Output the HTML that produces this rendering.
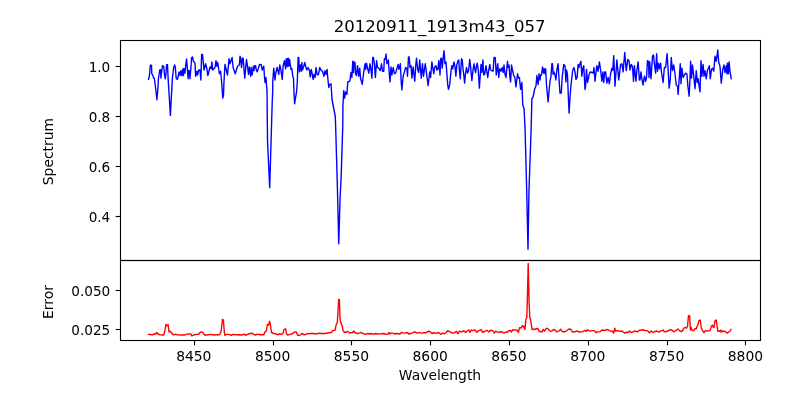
<!DOCTYPE html>
<html><head><meta charset="utf-8"><title>20120911_1913m43_057</title>
<style>
html,body{margin:0;padding:0;background:#fff;}
body{width:800px;height:400px;overflow:hidden;}
svg{display:block;will-change:transform;}
text{font-family:"DejaVu Sans","Liberation Sans",sans-serif;fill:#000;}
</style></head><body>
<svg width="800" height="400" viewBox="0 0 800 400">
<rect x="0" y="0" width="800" height="400" fill="#ffffff"/>
<path d="M148.44 79.38 L149.38 76.25 L150.31 65.31 L151.56 65.31 L151.75 73.75 L152.38 74.38 L152.81 75.00 L153.12 76.88 L154.38 78.75 L156.00 91.25 L156.88 99.75 L157.88 88.75 L158.44 78.75 L159.69 70.00 L160.62 69.69 L160.94 78.12 L161.38 73.75 L162.50 65.62 L163.75 66.56 L164.38 73.75 L165.31 78.75 L165.94 73.75 L166.56 64.69 L167.50 64.69 L168.12 78.75 L169.38 98.75 L170.38 115.38 L171.25 98.75 L172.50 76.88 L173.75 67.50 L174.69 65.00 L175.31 67.50 L176.25 78.75 L177.50 79.38 L179.06 71.88 L180.00 75.62 L180.94 70.62 L181.88 75.62 L182.81 69.06 L183.44 75.62 L183.88 68.44 L185.00 73.12 L185.62 66.25 L186.56 59.06 L187.50 69.38 L188.12 78.75 L188.75 70.62 L189.50 70.62 L190.00 78.75 L190.94 67.50 L191.56 57.81 L192.50 56.88 L193.44 61.25 L195.00 63.12 L195.62 76.25 L196.88 71.25 L197.50 75.00 L198.75 70.00 L200.00 70.00 L200.88 80.00 L201.62 54.38 L202.50 54.38 L204.00 70.00 L205.62 63.75 L206.88 68.75 L207.88 75.62 L210.00 66.88 L211.25 68.75 L211.88 61.88 L212.75 70.00 L215.00 67.50 L216.00 60.62 L216.88 66.25 L217.75 62.50 L219.38 73.75 L220.62 71.25 L221.88 85.00 L222.75 98.12 L223.50 95.00 L224.00 81.25 L225.00 64.38 L227.50 75.00 L229.00 58.75 L230.00 63.75 L232.12 57.50 L233.12 67.50 L235.25 73.75 L237.50 66.25 L239.38 65.00 L240.00 56.25 L240.62 57.50 L241.50 67.50 L242.50 58.12 L243.12 58.12 L244.75 78.12 L246.50 59.38 L247.50 66.25 L248.50 74.38 L249.38 66.88 L250.62 76.25 L251.25 67.50 L252.12 75.00 L253.38 66.25 L254.00 70.62 L254.75 65.62 L255.62 65.62 L256.25 70.00 L257.25 71.88 L258.75 66.88 L259.75 64.38 L261.25 64.75 L262.25 70.00 L263.75 66.25 L264.62 78.75 L265.00 82.50 L266.00 77.50 L266.50 85.00 L267.00 90.00 L267.50 140.00 L269.70 187.70 L271.10 140.00 L272.20 103.00 L272.75 90.00 L272.75 81.25 L273.75 68.12 L275.00 80.00 L275.62 73.75 L277.12 67.50 L278.75 74.38 L279.75 65.00 L280.62 68.12 L282.25 79.38 L283.12 66.25 L284.38 60.62 L285.62 68.75 L286.12 59.00 L286.62 66.00 L287.25 58.50 L287.75 66.50 L288.38 58.25 L289.00 66.00 L289.62 59.50 L290.25 64.00 L291.00 69.38 L291.88 68.75 L292.75 76.25 L293.50 78.12 L294.00 92.50 L294.62 103.75 L295.88 95.62 L296.50 92.50 L297.25 82.50 L297.50 76.25 L298.12 57.50 L298.75 57.50 L299.38 71.88 L300.38 65.00 L301.25 71.25 L301.88 62.50 L302.50 70.00 L303.75 66.25 L304.75 62.50 L305.62 66.25 L306.88 70.00 L308.12 67.50 L309.38 70.00 L310.25 76.88 L311.25 69.38 L312.25 74.38 L313.12 79.38 L314.00 74.38 L315.00 77.50 L316.00 67.50 L317.25 75.00 L318.50 74.38 L319.75 67.50 L321.25 70.62 L322.50 71.25 L324.00 76.25 L325.00 70.62 L326.00 74.38 L327.12 69.38 L327.50 75.00 L328.75 87.50 L329.75 84.40 L331.00 83.75 L332.10 100.00 L335.25 116.25 L335.60 125.00 L337.20 180.00 L337.70 200.00 L338.75 243.80 L340.00 200.00 L341.00 180.00 L341.90 154.00 L342.80 125.00 L342.90 106.25 L343.75 90.60 L344.60 98.10 L345.60 91.90 L346.90 94.40 L347.75 81.88 L349.75 81.25 L351.00 72.50 L351.88 77.50 L352.75 61.25 L353.50 72.50 L354.00 61.88 L355.00 62.50 L355.62 74.38 L356.50 75.62 L357.50 65.62 L358.75 76.25 L359.75 68.12 L360.62 78.75 L362.25 84.38 L363.50 73.75 L365.00 63.75 L365.62 69.38 L366.50 63.12 L367.50 68.12 L368.75 73.12 L370.00 63.75 L371.00 70.00 L371.88 78.12 L372.75 57.50 L373.50 57.50 L374.38 63.75 L375.38 77.50 L376.62 60.62 L377.50 67.50 L378.75 68.12 L380.25 70.62 L381.50 63.75 L382.50 71.25 L383.75 71.25 L384.38 58.75 L385.25 59.38 L386.00 54.00 L386.88 63.75 L388.38 60.00 L389.00 70.00 L390.00 81.88 L391.00 66.88 L391.88 75.00 L393.12 67.50 L394.38 73.75 L395.62 73.12 L396.88 68.75 L398.12 64.38 L399.00 69.38 L400.38 63.75 L401.25 82.50 L401.88 90.00 L403.12 76.25 L404.38 71.88 L405.62 67.50 L406.88 68.75 L407.50 76.25 L408.50 56.88 L409.12 56.88 L410.00 67.50 L411.00 65.62 L411.88 78.12 L413.12 66.88 L414.75 81.25 L415.62 67.50 L416.50 58.12 L417.75 70.00 L418.75 72.50 L419.75 60.00 L421.25 78.12 L422.50 63.75 L423.50 76.25 L425.25 63.75 L426.25 71.25 L428.12 85.62 L429.75 71.88 L430.62 77.50 L431.88 61.88 L433.12 70.00 L433.75 73.75 L434.75 66.88 L436.00 65.62 L436.88 70.00 L437.88 69.38 L438.75 60.62 L439.62 70.00 L440.00 75.00 L440.62 58.75 L441.50 58.12 L442.25 68.12 L443.12 58.75 L444.00 50.62 L445.00 63.75 L446.00 61.88 L446.88 73.75 L447.75 85.00 L448.50 89.38 L449.75 84.38 L451.00 71.25 L451.88 65.62 L452.75 68.75 L454.00 61.88 L455.00 66.88 L455.88 76.25 L456.88 64.38 L458.12 60.62 L458.75 60.00 L459.38 70.00 L460.25 78.75 L461.50 58.75 L462.25 60.00 L463.12 70.00 L463.75 74.38 L464.62 83.12 L465.62 72.50 L466.50 67.50 L467.50 73.12 L468.50 71.25 L469.75 59.38 L470.62 66.88 L471.88 80.62 L473.12 69.38 L474.00 63.75 L475.00 70.00 L475.62 72.50 L476.50 66.25 L477.25 63.12 L478.12 68.75 L479.38 88.12 L480.25 75.00 L481.00 64.38 L481.88 72.50 L482.88 60.00 L483.75 75.00 L484.75 73.75 L486.00 65.62 L486.88 71.88 L487.75 77.50 L488.75 70.00 L489.75 64.38 L490.62 70.00 L491.88 70.62 L493.12 71.25 L494.00 57.50 L495.25 57.50 L496.25 75.00 L497.75 63.75 L498.75 77.50 L499.75 68.75 L501.00 71.25 L502.12 67.50 L503.12 72.50 L504.00 65.00 L505.00 74.38 L506.00 77.50 L507.50 61.25 L508.12 67.50 L509.00 65.00 L510.00 78.12 L510.62 81.88 L511.50 65.00 L512.50 70.00 L513.75 75.62 L514.75 76.88 L516.00 86.88 L517.50 73.75 L518.50 78.12 L519.38 77.50 L520.62 89.38 L521.88 82.50 L522.75 105.00 L524.10 108.75 L525.10 130.00 L526.70 190.00 L528.00 249.30 L529.00 190.00 L531.10 130.00 L531.90 98.75 L533.10 96.90 L534.75 88.75 L536.00 86.00 L536.90 75.50 L538.10 84.50 L539.00 73.75 L540.00 80.00 L540.62 75.00 L541.50 75.00 L542.50 66.88 L543.50 73.12 L544.12 68.75 L545.00 73.75 L545.62 68.75 L546.50 85.00 L548.12 101.88 L549.38 87.50 L550.00 81.25 L551.00 76.25 L551.88 63.75 L552.50 63.75 L553.12 74.38 L554.00 71.88 L555.00 75.00 L555.88 80.00 L556.88 70.00 L558.12 63.75 L559.00 78.75 L560.00 93.12 L561.25 93.12 L562.25 76.25 L563.75 64.38 L565.00 65.62 L565.88 81.88 L566.62 70.00 L567.50 75.00 L568.38 97.50 L569.12 113.12 L570.00 97.50 L571.00 85.00 L571.88 77.50 L572.75 70.00 L574.00 67.50 L575.00 71.88 L576.00 79.38 L577.12 77.50 L578.12 64.38 L579.00 67.50 L579.75 64.38 L580.88 61.25 L581.88 76.25 L582.88 68.12 L583.75 65.62 L585.00 89.38 L585.62 86.25 L586.50 69.38 L587.50 82.50 L589.00 75.00 L590.25 71.88 L591.88 72.50 L593.12 73.12 L594.00 67.50 L595.00 81.25 L596.00 72.50 L596.88 65.62 L598.12 71.25 L599.38 61.88 L600.62 70.00 L601.88 81.25 L602.88 71.88 L603.75 82.50 L604.75 71.88 L605.62 71.88 L606.88 83.12 L608.12 77.50 L609.38 83.75 L610.62 73.75 L611.88 68.12 L612.75 70.62 L613.75 55.62 L615.00 86.25 L616.88 60.00 L617.75 69.38 L618.75 80.00 L620.62 64.38 L621.88 63.75 L623.12 71.88 L624.75 52.50 L626.25 70.62 L627.75 59.38 L629.00 60.62 L630.00 70.00 L631.25 64.38 L632.50 66.88 L633.50 81.25 L634.38 65.62 L635.25 74.38 L636.00 81.25 L636.88 70.00 L638.12 61.88 L639.38 80.00 L640.00 80.00 L641.00 71.88 L641.88 78.75 L643.12 85.00 L644.38 76.25 L645.62 81.25 L646.50 77.50 L647.50 60.62 L648.50 61.25 L649.00 77.50 L649.75 61.88 L651.00 78.75 L652.50 56.25 L653.50 55.00 L654.38 63.75 L655.62 73.12 L656.62 53.75 L657.50 71.25 L658.50 63.12 L659.38 68.75 L660.62 63.12 L661.50 72.50 L663.12 82.50 L664.38 67.50 L665.62 67.50 L667.12 53.75 L668.12 70.00 L669.12 88.12 L670.25 80.00 L671.25 57.50 L672.50 70.62 L673.75 65.00 L675.00 73.75 L676.25 85.00 L677.50 86.25 L678.12 94.38 L679.38 76.25 L680.25 63.75 L681.00 83.75 L681.88 68.12 L683.12 77.50 L684.38 75.00 L685.62 73.12 L686.88 73.75 L687.88 86.25 L689.12 96.25 L690.00 78.75 L690.62 61.25 L691.50 78.12 L692.50 65.00 L693.75 76.25 L695.00 88.75 L696.25 70.62 L697.25 82.50 L698.12 78.75 L698.75 83.75 L700.00 91.88 L701.00 60.62 L701.88 76.25 L703.12 64.38 L704.00 76.25 L705.00 70.62 L706.25 78.75 L707.50 70.00 L708.50 68.12 L709.38 65.62 L710.25 78.75 L711.50 69.38 L712.50 68.12 L713.75 71.25 L715.00 56.25 L716.25 61.25 L717.75 50.00 L718.75 62.50 L720.00 66.25 L721.25 83.12 L722.75 70.00 L724.00 65.00 L725.00 72.50 L726.25 65.62 L726.88 73.75 L727.50 63.12 L728.38 73.75 L729.12 61.88 L730.00 71.25 L731.25 78.75" fill="none" stroke="#0000ff" stroke-width="1.39" stroke-linejoin="round" stroke-linecap="square"/>
<path d="M148.50 334.38 L152.50 334.75 L154.38 334.00 L155.62 334.00 L156.62 332.50 L158.12 334.00 L160.00 334.75 L163.75 335.00 L164.75 331.25 L166.00 324.38 L166.88 325.62 L168.12 324.75 L169.00 331.88 L170.00 331.25 L171.25 332.50 L173.12 334.75 L175.00 334.38 L177.50 334.75 L182.50 335.00 L185.62 334.75 L187.50 333.75 L188.75 334.38 L190.00 333.75 L191.25 334.38 L191.88 336.00 L193.75 335.00 L196.25 334.38 L198.75 334.38 L200.00 332.50 L201.00 331.88 L202.50 332.25 L203.75 334.00 L205.00 335.25 L207.50 334.75 L211.25 334.38 L213.75 335.00 L216.25 334.75 L219.38 334.75 L221.00 331.88 L221.88 325.00 L222.50 319.38 L223.38 320.00 L224.38 332.50 L225.00 335.25 L226.25 334.38 L228.75 334.38 L231.25 335.25 L233.12 334.38 L236.25 334.75 L239.38 334.75 L240.00 335.00 L243.12 334.75 L244.38 334.00 L245.62 335.25 L247.50 334.38 L249.38 333.75 L251.88 333.12 L253.75 334.38 L255.62 335.00 L257.50 334.12 L260.00 334.75 L263.75 334.75 L265.00 331.88 L266.25 331.25 L267.50 324.38 L268.50 325.00 L269.62 321.25 L270.62 326.25 L271.50 332.50 L273.75 333.50 L276.25 334.00 L278.12 334.75 L279.38 333.75 L281.88 334.38 L283.12 333.12 L283.75 330.00 L284.75 329.38 L285.62 328.75 L286.50 333.75 L287.25 335.00 L290.00 334.38 L292.50 333.75 L294.00 332.12 L296.25 331.88 L297.50 335.00 L299.00 335.62 L300.62 334.75 L301.88 333.50 L303.12 334.00 L304.38 335.00 L306.25 334.00 L310.00 333.50 L313.75 333.50 L316.25 334.00 L319.38 333.12 L320.00 333.50 L325.00 333.50 L328.75 332.75 L331.25 332.50 L332.50 330.62 L335.00 330.25 L336.25 324.38 L337.25 323.12 L338.12 308.75 L338.75 299.38 L339.38 299.38 L340.00 318.75 L341.00 323.12 L342.25 326.25 L343.12 330.62 L344.38 332.25 L346.25 332.25 L347.50 331.25 L349.38 332.75 L352.50 332.75 L353.75 331.00 L355.00 332.75 L357.50 333.50 L359.38 333.12 L361.25 332.50 L363.12 333.50 L365.62 334.38 L368.12 333.50 L370.00 334.00 L371.25 333.50 L373.12 334.38 L375.62 333.50 L377.50 334.00 L381.25 333.75 L383.75 333.50 L386.25 334.38 L388.12 334.00 L389.00 332.50 L390.00 334.00 L391.88 332.75 L393.75 333.75 L396.25 333.50 L400.00 334.00 L401.50 332.25 L403.12 333.12 L405.00 333.12 L407.50 332.50 L408.75 334.00 L411.25 333.50 L413.12 332.50 L415.00 331.88 L416.88 333.12 L418.75 332.75 L420.00 332.50 L421.88 333.50 L423.75 332.50 L425.62 333.12 L426.88 331.88 L428.75 331.25 L430.62 331.88 L431.88 333.50 L433.75 332.75 L436.25 333.12 L438.75 332.50 L440.62 334.38 L442.50 333.12 L444.38 333.75 L446.25 332.50 L447.50 330.62 L450.00 331.88 L452.50 333.12 L455.00 332.50 L456.25 331.25 L458.12 333.75 L459.38 331.25 L461.88 331.88 L463.75 330.62 L465.62 332.50 L467.50 330.62 L468.75 330.00 L470.00 332.50 L471.25 330.00 L473.12 330.62 L475.00 330.00 L476.88 332.25 L478.75 330.62 L481.25 329.75 L482.50 332.25 L485.00 331.25 L486.88 330.25 L488.75 331.88 L490.62 330.25 L492.50 330.62 L494.38 333.12 L495.62 331.00 L497.50 332.25 L499.38 331.88 L500.00 332.00 L502.00 331.80 L504.00 333.30 L506.00 331.80 L507.50 332.20 L509.00 330.50 L510.50 330.50 L511.50 332.00 L512.50 330.00 L514.00 329.80 L515.00 330.20 L516.50 329.80 L518.50 332.20 L519.50 327.80 L521.00 328.00 L522.50 325.50 L523.20 327.00 L524.00 326.20 L525.00 329.50 L525.80 319.50 L526.80 317.50 L527.30 302.00 L528.20 263.50 L529.10 302.00 L529.80 318.00 L530.50 319.00 L531.20 324.00 L532.00 329.50 L533.50 329.00 L534.50 329.80 L536.00 328.50 L538.00 328.80 L539.00 331.00 L540.50 331.50 L542.00 332.00 L543.20 329.50 L544.50 331.20 L546.00 328.50 L547.50 328.50 L549.00 330.00 L550.50 331.20 L552.00 331.00 L553.50 329.50 L555.00 330.00 L557.00 332.00 L559.00 331.00 L560.70 329.20 L562.00 331.50 L564.00 331.80 L565.50 331.50 L567.00 330.50 L569.00 329.00 L571.00 329.50 L572.00 331.50 L573.50 332.00 L575.00 331.80 L577.00 330.80 L578.50 331.80 L579.80 332.00 L580.00 331.88 L582.50 331.88 L585.00 330.25 L586.25 331.50 L587.50 329.75 L589.38 331.00 L592.50 330.62 L594.38 330.62 L596.00 332.75 L597.50 331.88 L600.00 331.88 L601.88 330.00 L603.75 330.25 L605.00 330.62 L606.88 329.38 L608.75 330.25 L610.62 331.25 L612.50 331.25 L613.75 333.12 L614.75 328.12 L615.62 331.00 L617.50 330.62 L620.00 331.25 L622.50 331.25 L624.38 333.12 L626.25 332.25 L628.12 332.50 L629.38 331.00 L631.25 332.50 L633.12 331.88 L635.00 331.00 L637.50 331.88 L639.38 330.25 L641.25 330.25 L643.12 329.75 L645.00 330.62 L647.50 330.62 L649.38 332.75 L651.25 331.00 L653.12 332.50 L655.00 331.50 L656.88 331.00 L658.75 332.25 L660.00 331.25 L661.88 330.62 L663.12 330.00 L664.38 331.88 L666.25 331.50 L668.12 331.00 L669.38 330.00 L671.25 329.75 L672.50 330.62 L674.38 331.88 L675.62 330.62 L676.88 329.75 L678.12 329.00 L679.38 330.62 L681.25 331.50 L682.50 331.00 L683.75 328.12 L685.00 327.50 L686.50 328.12 L687.50 326.25 L688.50 315.62 L689.62 315.62 L690.38 330.00 L691.25 327.50 L692.25 330.62 L693.75 330.62 L695.00 328.75 L696.25 328.75 L696.88 326.88 L697.88 325.00 L699.00 320.62 L700.25 320.00 L701.25 327.50 L702.50 330.62 L704.00 332.50 L705.25 330.62 L707.50 331.00 L710.00 330.62 L711.25 326.88 L712.25 325.00 L713.12 326.88 L714.00 327.50 L715.00 320.62 L716.25 320.00 L717.25 327.50 L717.75 331.25 L719.38 330.62 L720.25 331.88 L721.00 330.00 L721.88 331.88 L723.75 331.00 L725.62 331.88 L727.50 333.12 L728.75 331.88 L730.00 331.25 L731.00 329.38" fill="none" stroke="#ff0000" stroke-width="1.39" stroke-linejoin="round" stroke-linecap="square"/>
<g fill="none" stroke="#000" stroke-width="1.11" stroke-linecap="square" shape-rendering="auto">
<rect x="120.5" y="40.5" width="640" height="220"/>
<rect x="120.5" y="260.5" width="640" height="80"/>
</g>
<g stroke="#000" stroke-width="1.11">
<line x1="194.5" y1="340.5" x2="194.5" y2="345.36"/>
<line x1="273.5" y1="340.5" x2="273.5" y2="345.36"/>
<line x1="351.5" y1="340.5" x2="351.5" y2="345.36"/>
<line x1="430.5" y1="340.5" x2="430.5" y2="345.36"/>
<line x1="509.5" y1="340.5" x2="509.5" y2="345.36"/>
<line x1="588.5" y1="340.5" x2="588.5" y2="345.36"/>
<line x1="667.5" y1="340.5" x2="667.5" y2="345.36"/>
<line x1="745.5" y1="340.5" x2="745.5" y2="345.36"/>
<line x1="115.64" y1="66.5" x2="120.5" y2="66.5"/>
<line x1="115.64" y1="116.5" x2="120.5" y2="116.5"/>
<line x1="115.64" y1="166.5" x2="120.5" y2="166.5"/>
<line x1="115.64" y1="216.5" x2="120.5" y2="216.5"/>
<line x1="115.64" y1="290.5" x2="120.5" y2="290.5"/>
<line x1="115.64" y1="329.5" x2="120.5" y2="329.5"/>
</g>
<g font-size="13.889px">
<text x="193.8" y="360.8" text-anchor="middle">8450</text>
<text x="272.6" y="360.8" text-anchor="middle">8500</text>
<text x="351.4" y="360.8" text-anchor="middle">8550</text>
<text x="430.2" y="360.8" text-anchor="middle">8600</text>
<text x="509.0" y="360.8" text-anchor="middle">8650</text>
<text x="587.8" y="360.8" text-anchor="middle">8700</text>
<text x="666.6" y="360.8" text-anchor="middle">8750</text>
<text x="745.4" y="360.8" text-anchor="middle">8800</text>
<text x="110.3" y="72.25" text-anchor="end" textLength="21.65" lengthAdjust="spacingAndGlyphs">1.0</text>
<text x="110.3" y="122.25" text-anchor="end" textLength="21.65" lengthAdjust="spacingAndGlyphs">0.8</text>
<text x="110.3" y="172.25" text-anchor="end" textLength="21.65" lengthAdjust="spacingAndGlyphs">0.6</text>
<text x="110.3" y="222.25" text-anchor="end" textLength="21.65" lengthAdjust="spacingAndGlyphs">0.4</text>
<text x="110.3" y="296.25" text-anchor="end" textLength="39.0" lengthAdjust="spacingAndGlyphs">0.050</text>
<text x="110.3" y="335.25" text-anchor="end" textLength="39.0" lengthAdjust="spacingAndGlyphs">0.025</text>
<text x="440" y="379.6" text-anchor="middle">Wavelength</text>
<text transform="translate(53.1,151.6) rotate(-90)" text-anchor="middle">Spectrum</text>
<text transform="translate(53.1,302) rotate(-90)" text-anchor="middle">Error</text>
</g>
<text x="439.6" y="31.8" font-size="16.667px" text-anchor="middle" textLength="211.9" lengthAdjust="spacingAndGlyphs">20120911_1913m43_057</text>
</svg>
</body></html>
